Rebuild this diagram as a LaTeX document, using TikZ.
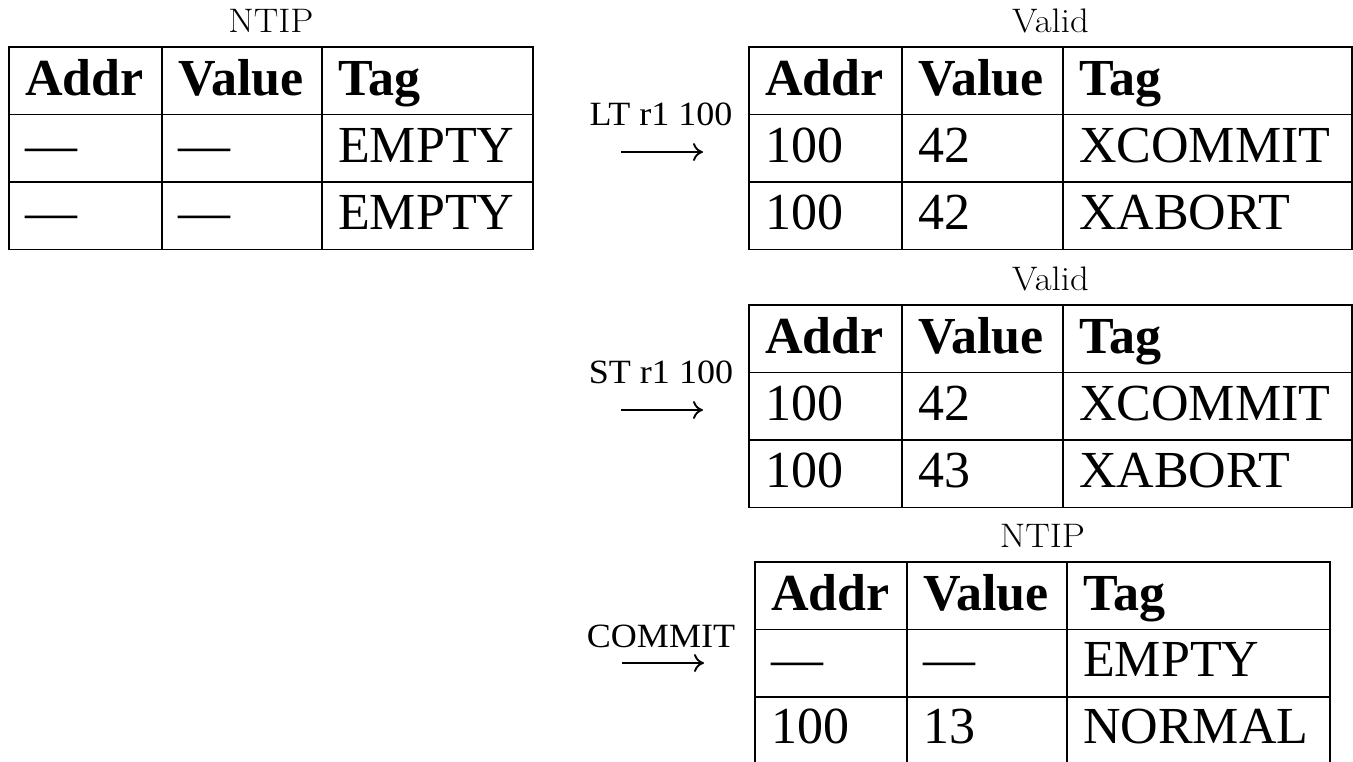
\documentclass[tikz,border=0pt]{standalone}
\usepackage{fontspec}
\newfontfamily\tnr{Liberation Serif}
\newfontfamily\tnrwide[FakeStretch=1.06]{Liberation Serif}
\newfontfamily\lmr[FakeStretch=1.08]{Latin Modern Roman}
\usetikzlibrary{arrows.meta}
\tikzset{
  cell/.style={anchor=base west, inner sep=0pt, font=\tnr\fontsize{52}{60}\selectfont},
  head/.style={anchor=base west, inner sep=0pt, font=\tnr\bfseries\fontsize{52}{60}\selectfont},
  ttl/.style={anchor=base, inner sep=0pt, font=\lmr\fontsize{34}{40}\selectfont},
  oplbl/.style={anchor=base, inner sep=0pt, font=\tnrwide\fontsize{34}{40}\selectfont},
  gridline/.style={line width=1.8pt},
  oparrow/.style={line width=1.9pt, -{Computer Modern Rightarrow[length=10pt,width=18pt]}},
}
% #1 prefix, #2..#5 column x, #6 top y, #7 title
\newcommand\tablegrid[7]{%
  \draw[gridline] (#2,#6) rectangle (#5,#6+202.5);
  \draw[gridline] (#2,#6+67.5) -- (#5,#6+67.5);
  \draw[gridline] (#2,#6+135) -- (#5,#6+135);
  \draw[gridline] (#3,#6) -- (#3,#6+202.5);
  \draw[gridline] (#4,#6) -- (#4,#6+202.5);
  \node[ttl] (#1title) at ({(#2+#5)/2},#6-15) {#7};
  \node[head] (#1ha) at (#2+16,#6+48) {Addr};
  \node[head] (#1hb) at (#3+16,#6+48) {Value};
  \node[head] (#1hc) at (#4+16,#6+48) {Tag};
}
% #1 name, #2..#4 column x, #5 baseline y, #6..#8 texts
\newcommand\tablerow[8]{%
  \node[cell] (#1a) at (#2+16,#5) {#6};
  \node[cell] (#1b) at (#3+16,#5) {#7};
  \node[cell] (#1c) at (#4+16,#5) {#8};
}
\begin{document}
\begin{tikzpicture}[x=1pt,y=-1pt]
\useasboundingbox (0,0) rectangle (1353,761);
\clip (0,0) rectangle (1353,761);
% table 1
\tablegrid{A}{9}{162}{322}{533}{47}{NTIP}
\tablerow{Ar1}{9}{162}{322}{162}{—}{—}{EMPTY}
\tablerow{Ar2}{9}{162}{322}{229}{—}{—}{EMPTY}
% table 2
\tablegrid{B}{749}{902}{1063}{1352}{47}{Valid}
\tablerow{Br1}{749}{902}{1063}{162}{100}{42}{XCOMMIT}
\tablerow{Br2}{749}{902}{1063}{229}{100}{42}{XABORT}
% table 3
\tablegrid{C}{749}{902}{1063}{1352}{305}{Valid}
\tablerow{Cr1}{749}{902}{1063}{420}{100}{42}{XCOMMIT}
\tablerow{Cr2}{749}{902}{1063}{487}{100}{43}{XABORT}
% table 4
\tablegrid{D}{755}{907}{1067}{1330}{562}{NTIP}
\tablerow{Dr1}{755}{907}{1067}{676}{—}{—}{EMPTY}
\tablerow{Dr2}{755}{907}{1067}{743}{100}{13}{NORMAL}
% operations
\node[oplbl] (op1) at (661,125) {LT r1 100};
\coordinate (op1s) at (621,152);
\coordinate (op1e) at (703,152);
\draw[oparrow] (op1s) -- (op1e);
\node[oplbl] (op2) at (661,383) {ST r1 100};
\coordinate (op2s) at (621,410);
\coordinate (op2e) at (703,410);
\draw[oparrow] (op2s) -- (op2e);
\node[oplbl] (op3) at (661,647) {COMMIT};
\coordinate (op3s) at (622,663);
\coordinate (op3e) at (704,663);
\draw[oparrow] (op3s) -- (op3e);
\end{tikzpicture}
\end{document}
